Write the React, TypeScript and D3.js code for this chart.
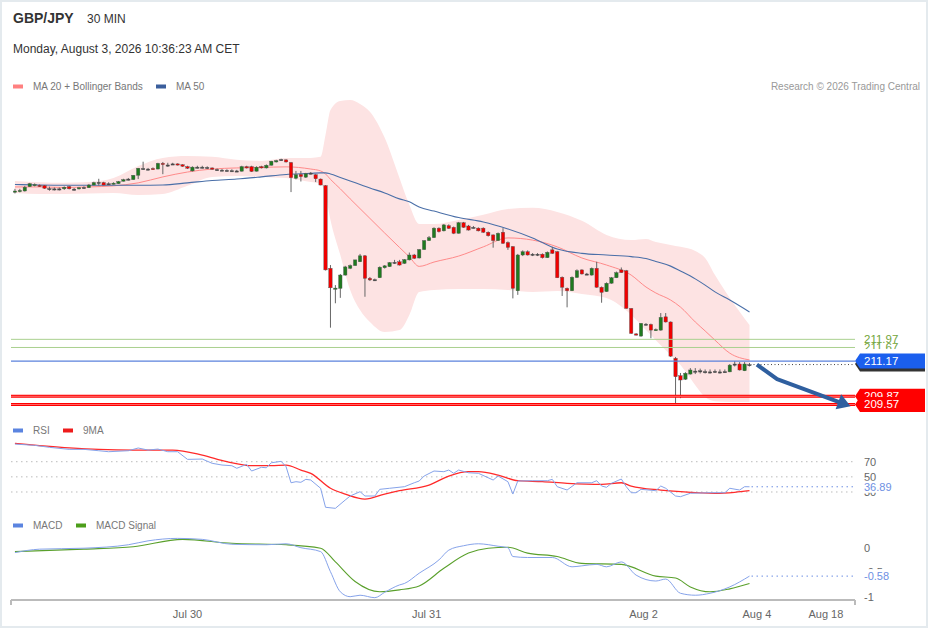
import React, { useEffect, useRef } from 'react';
import * as d3 from 'd3';

// 30 min candles, index 0 = first visible candle
const candleOpen = [
  217.42, 217.44, 217.44, 217.6, 217.66, 217.65, 217.64, 217.53, 217.52, 217.52,
  217.52, 217.6, 217.51, 217.52, 217.56, 217.56, 217.66, 217.75, 217.75, 217.7,
  217.71, 217.71, 217.8, 217.87, 217.86, 218.02, 218.27, 218.25, 218.27, 218.25,
  218.46, 218.4, 218.43, 218.44, 218.41, 218.34, 218.18, 218.32, 218.32, 218.31,
  218.29, 218.23, 218.21, 218.2, 218.19, 218.18, 218.17, 218.34, 218.34, 218.17,
  218.34, 218.29, 218.39, 218.51, 218.59, 218.59, 218.49, 217.91, 218.05, 217.95,
  218.09, 218.04, 217.88, 217.64, 214.59, 213.83, 213.85, 214.34, 214.59, 214.69,
  214.83, 215.05, 214.22, 214.16, 214.24, 214.61, 214.65, 214.8, 214.83, 214.77,
  214.9, 215.08, 214.97, 215.28, 215.61, 215.72, 216.07, 215.97, 216.16, 216.1,
  215.88, 216.27, 216.15, 216.1, 216.07, 216.07, 215.92, 215.82, 215.61, 215.92,
  215.54, 215.39, 213.76, 215.08, 215.2, 215.1, 215.11, 215.11, 214.98, 215.27,
  215.2, 214.26, 213.85, 213.76, 214.25, 214.53, 214.38, 214.34, 214.59, 213.89,
  213.73, 214.04, 214.24, 214.53, 214.5, 213.11, 212.17, 212.09, 212.53, 212.52,
  212.31, 212.31, 212.8, 212.61, 211.27, 210.63, 210.5, 210.69, 210.8, 210.81,
  210.77, 210.77, 210.79, 210.77, 210.77, 210.77, 211.06, 211.06, 210.81, 211.03,
];
const candleHigh = [
  217.52, 217.52, 217.63, 217.74, 217.72, 217.68, 217.66, 217.6, 217.57, 217.57,
  217.61, 217.63, 217.55, 217.59, 217.61, 217.7, 217.78, 217.89, 217.78, 217.76,
  217.76, 217.81, 217.89, 217.92, 218.02, 218.29, 218.52, 218.29, 218.31, 218.48,
  218.51, 218.48, 218.48, 218.46, 218.43, 218.37, 218.35, 218.37, 218.37, 218.35,
  218.31, 218.27, 218.25, 218.24, 218.24, 218.22, 218.37, 218.37, 218.37, 218.35,
  218.37, 218.42, 218.55, 218.59, 218.63, 218.6, 218.51, 218.18, 218.18, 218.11,
  218.14, 218.07, 217.9, 217.66, 214.71, 213.97, 214.38, 214.68, 214.73, 214.9,
  215.12, 215.08, 214.27, 214.21, 214.66, 214.71, 214.82, 214.9, 214.9, 214.93,
  215.17, 215.12, 215.3, 215.63, 215.78, 216.1, 216.1, 216.22, 216.21, 216.13,
  216.3, 216.3, 216.19, 216.15, 216.1, 216.1, 215.95, 215.84, 215.91, 216.07,
  215.58, 215.41, 215.12, 215.25, 215.25, 215.15, 215.15, 215.14, 215.21, 215.38,
  215.23, 214.29, 213.88, 214.29, 214.55, 214.55, 214.42, 214.62, 214.83, 213.92,
  214.07, 214.27, 214.47, 214.62, 214.53, 213.12, 212.2, 212.57, 212.57, 212.55,
  212.37, 212.94, 212.94, 212.63, 211.32, 210.73, 210.76, 210.91, 210.91, 210.89,
  210.86, 210.86, 210.86, 210.86, 210.86, 211.06, 211.17, 211.13, 211.13, 211.1,
];
const candleLow = [
  217.35, 217.39, 217.42, 217.59, 217.61, 217.59, 217.52, 217.45, 217.46, 217.46,
  217.48, 217.5, 217.45, 217.5, 217.52, 217.55, 217.65, 217.64, 217.65, 217.66,
  217.68, 217.7, 217.79, 217.83, 217.85, 217.88, 218.22, 218.2, 218.22, 218.24,
  218.06, 218.33, 218.4, 218.38, 218.33, 218.25, 218.16, 218.27, 218.27, 218.25,
  218.22, 218.2, 218.18, 218.16, 218.16, 218.14, 218.16, 218.27, 218.14, 218.16,
  218.27, 218.27, 218.38, 218.49, 218.55, 218.49, 217.4, 217.87, 217.79, 217.92,
  218.05, 217.77, 217.65, 214.51, 212.4, 213.3, 213.5, 214.32, 214.56, 214.68,
  214.82, 213.54, 214.12, 214.12, 214.23, 214.58, 214.64, 214.75, 214.69, 214.75,
  214.88, 214.93, 214.95, 215.27, 215.6, 215.71, 215.91, 215.95, 216.04, 215.85,
  215.87, 216.08, 215.98, 216.06, 215.95, 215.89, 215.76, 215.35, 215.6, 215.49,
  215.27, 213.48, 213.61, 215.04, 215.06, 215.04, 215.04, 214.95, 214.97, 215.12,
  214.23, 213.57, 213.15, 213.75, 214.24, 214.36, 214.34, 214.32, 213.87, 213.32,
  213.72, 214.02, 214.23, 214.42, 213.1, 212.17, 212.11, 212.07, 212.48, 212.01,
  212.28, 212.29, 212.59, 211.32, 209.61, 209.8, 210.47, 210.67, 210.69, 210.71,
  210.71, 210.71, 210.73, 210.71, 210.73, 210.76, 210.97, 210.82, 210.8, 210.97,
];
const candleClose = [
  217.44, 217.46, 217.58, 217.71, 217.68, 217.63, 217.54, 217.53, 217.52, 217.51,
  217.58, 217.52, 217.5, 217.56, 217.57, 217.66, 217.75, 217.76, 217.66, 217.71,
  217.73, 217.79, 217.86, 217.88, 218.02, 218.28, 218.27, 218.24, 218.25, 218.46,
  218.43, 218.4, 218.44, 218.41, 218.35, 218.28, 218.32, 218.32, 218.32, 218.3,
  218.24, 218.23, 218.21, 218.19, 218.19, 218.18, 218.34, 218.29, 218.16, 218.32,
  218.29, 218.39, 218.54, 218.56, 218.6, 218.51, 217.93, 218.04, 217.97, 218.08,
  218.1, 217.89, 217.66, 214.53, 213.87, 213.86, 214.34, 214.64, 214.69, 214.9,
  215.05, 214.22, 214.16, 214.17, 214.63, 214.68, 214.8, 214.81, 214.71, 214.91,
  215.08, 214.96, 215.28, 215.61, 215.72, 216.07, 215.94, 216.19, 216.06, 215.88,
  216.27, 216.1, 216.0, 216.1, 215.97, 215.92, 215.79, 215.61, 215.88, 215.51,
  215.36, 213.85, 215.08, 215.2, 215.08, 215.11, 215.1, 214.98, 215.18, 215.14,
  214.24, 213.89, 213.76, 214.26, 214.5, 214.38, 214.37, 214.59, 213.89, 213.7,
  214.04, 214.24, 214.43, 214.43, 213.11, 212.19, 212.15, 212.56, 212.52, 212.31,
  212.33, 212.78, 212.61, 211.35, 210.59, 210.47, 210.72, 210.84, 210.8, 210.81,
  210.78, 210.77, 210.79, 210.77, 210.78, 211.02, 211.06, 210.84, 211.06, 211.04,
];

// MA 20 + Bollinger bands and MA 50, read at these candle indices
const bandIndex = [
  0, 5, 10, 15, 20, 25, 30, 35, 40, 45, 50, 55, 60, 62, 63, 64, 66, 68, 70, 72, 75,
  78, 80, 82, 85, 90, 95, 100, 105, 110, 115, 120, 125, 128, 130, 133, 135, 138, 140, 142, 145, 149,
];
const bandUpper = [
  217.81, 217.76, 217.74, 217.77, 217.92, 218.36, 218.66, 218.73, 218.7, 218.59, 218.55, 218.66,
  218.66, 218.7, 219.51, 220.43, 220.76, 220.8, 220.65, 220.36, 219.4, 217.92, 216.93, 216.22,
  216.22, 216.37, 216.56, 216.78, 216.82, 216.67, 216.34, 215.82, 215.63, 215.67, 215.56, 215.45,
  215.38, 215.23, 214.97, 214.34, 213.49, 212.5,
];
const bandLower = [
  217.37, 217.33, 217.33, 217.35, 217.37, 217.29, 217.33, 217.63, 217.96, 217.99, 217.96, 217.92,
  217.77, 217.7, 217.29, 216.37, 215.08, 213.79, 213.05, 212.61, 212.24, 212.31, 212.87, 213.72,
  213.79, 213.83, 213.83, 213.79, 213.72, 213.75, 213.64, 213.49, 212.87, 212.31, 211.94, 211.39,
  211.02, 210.28, 209.84, 209.69, 209.66, 209.66,
];
const ma20 = [
  217.59, 217.59, 217.57, 217.59, 217.63, 217.74, 217.96, 218.14, 218.25, 218.29, 218.31, 218.33,
  218.25, 218.18, 218.07, 217.87, 217.52, 217.15, 216.79, 216.43, 215.89, 215.36, 215.01, 214.66,
  214.82, 215.04, 215.38, 215.71, 215.63, 215.38, 214.97, 214.71, 214.34, 213.9, 213.68, 213.42,
  213.16, 212.61, 212.28, 211.94, 211.46, 211.21,
];
const ma50 = [
  217.68, 217.66, 217.65, 217.65, 217.65, 217.65, 217.66, 217.74, 217.83, 217.88, 217.96, 218.05,
  218.09, 218.11, 218.11, 218.07, 217.94, 217.81, 217.68, 217.55, 217.37, 217.15, 217.04, 216.85,
  216.7, 216.46, 216.3, 216.04, 215.71, 215.3, 215.14, 215.08, 215.02, 214.95, 214.84, 214.67,
  214.49, 214.2, 213.97, 213.72, 213.42, 212.98,
];

const rsiIndex = [
  0, 4, 7, 11, 14, 17, 19, 23, 25, 27, 29, 31, 33, 35, 38, 40, 42, 44, 45, 47, 48, 50, 51, 52,
  54, 55, 56, 57, 58, 59, 60, 62, 63, 65, 67, 68, 70, 71, 73, 74, 76, 79, 81, 82, 83, 85, 87, 88,
  89, 90, 92, 94, 97, 98, 100, 101, 102, 105, 108, 109, 110, 112, 114, 117, 118, 119, 120, 121,
  123, 124, 125, 126, 127, 130, 131, 132, 134, 135, 137, 141, 144, 145, 147, 148, 149,
];
const rsiValues = [
  93.3, 91.6, 89.0, 86.3, 86.3, 84.5, 83.2, 84.5, 88.1, 85.4, 86.7, 83.2, 83.2, 73.1, 73.5, 67.9,
  65.6, 64.7, 61.3, 66.5, 57.7, 62.6, 62.0, 68.6, 70.5, 63.4, 42.2, 43.6, 42.8, 46.7, 45.8, 34.9,
  9.8, 8.4, 19.4, 24.7, 30.4, 24.7, 24.7, 33.5, 34.9, 37.0, 42.2, 44.5, 51.1, 57.7, 56.8, 59.0,
  54.7, 59.0, 55.4, 54.7, 45.8, 51.1, 43.6, 27.3, 44.5, 44.9, 44.9, 46.7, 37.0, 32.6, 42.2, 42.2,
  44.9, 37.9, 36.2, 41.5, 47.1, 37.0, 29.0, 29.0, 33.5, 31.7, 37.9, 34.9, 24.7, 23.8, 28.3, 29.0,
  29.0, 34.9, 32.6, 37.0, 36.89,
];
const rsiMaIndex = [
  0, 11, 17, 24, 32, 38, 43, 48, 52, 55, 58, 60, 64, 67, 71, 75, 78, 84, 88, 92, 94, 98, 102,
  107, 112, 119, 123, 125, 131, 135, 142, 146, 149,
];
const rsiMaValues = [
  94.3, 88.4, 86.3, 85.4, 85.4, 78.8, 70.0, 64.7, 64.7, 65.6, 59.0, 54.7, 34.9, 27.3, 20.7, 27.3,
  31.7, 39.2, 51.1, 56.8, 56.8, 52.4, 44.9, 43.6, 41.5, 40.1, 42.2, 37.9, 32.6, 30.4, 28.3, 29.6, 31.7,
];

const macdIndex = [
  0, 5, 14, 23, 27, 33, 38, 44, 51, 55, 58, 62, 64, 66, 68, 70, 73, 75, 78, 79, 82, 86, 88, 91,
  94, 98, 100, 101, 104, 109, 113, 115, 118, 120, 123, 126, 130, 132, 135, 138, 141, 145, 149,
];
const macdValues = [
  -0.1, -0.03, -0.01, 0.06, 0.14, 0.19, 0.17, 0.07, 0.06, 0.08, 0.0, -0.08, -0.49, -0.9, -1.0,
  -0.97, -1.02, -0.91, -0.76, -0.73, -0.52, -0.25, -0.05, 0.04, 0.08, 0.03, 0.0, -0.18, -0.2,
  -0.2, -0.39, -0.37, -0.34, -0.39, -0.29, -0.56, -0.68, -0.64, -0.93, -0.97, -0.93, -0.8, -0.58,
];
const signalIndex = [
  0, 14, 24, 34, 44, 55, 62, 65, 69, 74, 78, 82, 87, 92, 96, 100, 104, 110, 115, 123, 130, 134,
  137, 141, 145, 149,
];
const signalValues = [
  -0.08, -0.03, 0.02, 0.17, 0.09, 0.06, -0.01, -0.29, -0.69, -0.9, -0.86, -0.78, -0.42, -0.11,
  -0.01, 0.01, -0.11, -0.18, -0.32, -0.34, -0.58, -0.62, -0.8, -0.9, -0.84, -0.73,
];

const resistanceLevels = [211.97, 211.67];
const pivotLevel = 211.17;
const supportLevels = [209.87, 209.57];
const forecastIndex = [150.5, 154.6, 167.6];
const forecastPrice = [211.04, 210.5, 209.63];

const xTickLabels = ['Jul 30', 'Jul 31', 'Aug 2', 'Aug 4', 'Aug 18'];
const xTickIndex = [35, 83.5, 127.5, 150.5, 164.5];
const rsiTicks = [70, 50, 30];
const macdTicks = [0, -0.5, -1];

const FONT = '"Liberation Sans", Arial, Helvetica, sans-serif';

const App: React.FC = () => {
  const svgRef = useRef<SVGSVGElement | null>(null);

  useEffect(() => {
    document.body.style.margin = '0';
    if (!svgRef.current) return;
    const W = 929;
    const H = 629;
    const svg = d3.select(svgRef.current);
    svg.selectAll('*').remove();
    svg.attr('width', W).attr('height', H).style('font-family', FONT).style('display', 'block');

    const x = d3.scaleLinear().domain([-0.8, 170.4]).range([11, 855]);
    const y = d3.scaleLinear().domain([209.18, 220.98]).range([415, 95]);
    const yRsi = d3.scaleLinear().domain([0, 100]).range([514.7, 439]);
    const yMacd = d3.scaleLinear().domain([-1, 0]).range([596.7, 547.7]);
    const lastIdx = candleClose.length - 1;
    const xEnd = x.range()[1];

    svg.append('rect').attr('x', 1).attr('y', 1).attr('width', W - 3).attr('height', H - 3)
      .attr('fill', '#fff').attr('stroke', '#e4eaee').attr('stroke-width', 2);

    // header
    svg.append('text').attr('x', 13).attr('y', 23).attr('font-size', 14).attr('font-weight', 'bold')
      .attr('fill', '#333').text('GBP/JPY');
    svg.append('text').attr('x', 87).attr('y', 23).attr('font-size', 12).attr('fill', '#333').text('30 MIN');
    svg.append('text').attr('x', 13).attr('y', 52.5).attr('font-size', 12).attr('fill', '#333')
      .text('Monday, August 3, 2026 10:36:23 AM CET');

    const legend = (items: { label: string; color: string; x: number }[], ly: number) => {
      items.forEach((it) => {
        svg.append('rect').attr('x', it.x).attr('y', ly - 5.5).attr('width', 10).attr('height', 4)
          .attr('fill', it.color);
        svg.append('text').attr('x', it.x + 20).attr('y', ly).attr('font-size', 10).attr('fill', '#777')
          .text(it.label);
      });
    };
    legend([
      { label: 'MA 20 + Bollinger Bands', color: '#ff8080', x: 13 },
      { label: 'MA 50', color: '#3a5e9c', x: 156 },
    ], 90);
    svg.append('text').attr('x', 920).attr('y', 90).attr('font-size', 10).attr('fill', '#999')
      .attr('text-anchor', 'end').text('Research \u00a9 2026 Trading Central');

    // bollinger band
    const band = d3.area<number>()
      .x((i) => x(bandIndex[i]))
      .y0((i) => y(bandLower[i]))
      .y1((i) => y(bandUpper[i]))
      .curve(d3.curveMonotoneX);
    const idx = d3.range(bandIndex.length);
    svg.append('path').attr('d', band(idx) as string).attr('fill', '#fde3e3');

    const bandLine = (vals: number[]) =>
      d3.line<number>().x((i) => x(bandIndex[i])).y((i) => y(vals[i])).curve(d3.curveMonotoneX)(idx) as string;
    svg.append('path').attr('d', bandLine(ma20)).attr('fill', 'none').attr('stroke', '#ff8a8a').attr('stroke-width', 1);
    svg.append('path').attr('d', bandLine(ma50)).attr('fill', 'none').attr('stroke', '#4a6fa8').attr('stroke-width', 1.1);

    // candles
    const cw = 3.4;
    const candles = svg.append('g');
    const ci = d3.range(candleClose.length);
    candles.selectAll('line').data(ci).join('line')
      .attr('x1', (i) => x(i)).attr('x2', (i) => x(i))
      .attr('y1', (i) => y(candleHigh[i])).attr('y2', (i) => y(candleLow[i]))
      .attr('stroke', '#666').attr('stroke-width', 1);
    candles.selectAll('rect').data(ci).join('rect')
      .attr('x', (i) => x(i) - cw / 2)
      .attr('y', (i) => y(Math.max(candleOpen[i], candleClose[i])))
      .attr('width', cw)
      .attr('height', (i) => Math.max(1.2, Math.abs(y(candleOpen[i]) - y(candleClose[i]))))
      .attr('fill', (i) => {
        const d = candleClose[i] - candleOpen[i];
        if (Math.abs(d) < 0.015) return '#444';
        return d > 0 ? '#1f7a1f' : '#f00000';
      })
      .attr('stroke', '#555').attr('stroke-width', 0.4);

    // levels
    resistanceLevels.forEach((v) => {
      svg.append('line').attr('x1', 11).attr('x2', xEnd).attr('y1', y(v)).attr('y2', y(v))
        .attr('stroke', '#a9d08e').attr('stroke-width', 1);
    });
    svg.append('line').attr('x1', 11).attr('x2', xEnd).attr('y1', y(pivotLevel)).attr('y2', y(pivotLevel))
      .attr('stroke', '#5b82dc').attr('stroke-width', 1.3);
    supportLevels.forEach((v) => {
      svg.append('line').attr('x1', 11).attr('x2', xEnd).attr('y1', y(v)).attr('y2', y(v))
        .attr('stroke', '#ff0000').attr('stroke-width', 3);
      svg.append('line').attr('x1', 11).attr('x2', xEnd).attr('y1', y(v)).attr('y2', y(v))
        .attr('stroke', '#fff').attr('stroke-width', 0.8).attr('opacity', 0.55);
    });
    svg.append('line').attr('x1', x(lastIdx) + 4).attr('x2', xEnd).attr('y1', y(candleClose[lastIdx]))
      .attr('y2', y(candleClose[lastIdx])).attr('stroke', '#444').attr('stroke-dasharray', '1,2.5');

    // forecast arrow
    const fPts = forecastIndex.map((v, i) => [x(v), y(forecastPrice[i])] as [number, number]);
    svg.append('path').attr('d', d3.line()(fPts) as string).attr('fill', 'none')
      .attr('stroke', '#2f5f9f').attr('stroke-width', 4).attr('stroke-linejoin', 'round');
    const [ax, ay] = fPts[fPts.length - 1];
    const [bx, by] = fPts[fPts.length - 2];
    const ang = Math.atan2(ay - by, ax - bx);
    const tip: [number, number] = [ax + 10 * Math.cos(ang), ay + 10 * Math.sin(ang)];
    const side = (s: number): [number, number] => [
      ax - 3 * Math.cos(ang) + s * 8 * Math.cos(ang + Math.PI / 2),
      ay - 3 * Math.sin(ang) + s * 8 * Math.sin(ang + Math.PI / 2),
    ];
    svg.append('path').attr('d', `M${tip}L${side(1)}L${side(-1)}Z`).attr('fill', '#2f5f9f');

    // price labels
    const pointer = (py: number) => `M855,${py}L860,${py - 7.5}L925,${py - 7.5}L925,${py + 7.5}L860,${py + 7.5}Z`;
    resistanceLevels.forEach((v) => {
      svg.append('text').attr('x', 864).attr('y', y(v) + 4).attr('font-size', 11.5).attr('fill', '#72a43a')
        .text(v.toFixed(2));
    });
    const py = y(pivotLevel);
    svg.append('rect').attr('x', 858).attr('y', py - 12).attr('width', 68).attr('height', 14).attr('fill', '#fff');
    svg.append('path').attr('d', pointer(py + 3)).attr('fill', '#333');
    svg.append('path').attr('d', pointer(py)).attr('fill', '#1b5fee');
    svg.append('text').attr('x', 864).attr('y', py + 4).attr('font-size', 11.5).attr('fill', '#fff')
      .text(pivotLevel.toFixed(2));
    supportLevels.forEach((v) => {
      svg.append('path').attr('d', pointer(y(v))).attr('fill', '#ff0000');
      svg.append('text').attr('x', 864).attr('y', y(v) + 4).attr('font-size', 11.5).attr('fill', '#fff')
        .text(v.toFixed(2));
    });

    // RSI panel
    legend([
      { label: 'RSI', color: '#5b84e0', x: 13 },
      { label: '9MA', color: '#ee1c1c', x: 63 },
    ], 434);
    rsiTicks.forEach((t) => {
      svg.append('line').attr('x1', 11).attr('x2', xEnd).attr('y1', yRsi(t)).attr('y2', yRsi(t))
        .attr('stroke', '#bbb').attr('stroke-dasharray', '1.5,3.5');
      svg.append('text').attr('x', 864).attr('y', yRsi(t) + 4).attr('font-size', 11).attr('fill', '#666').text(t);
    });
    svg.append('path')
      .attr('d', d3.line<number>().x((i) => x(rsiMaIndex[i])).y((i) => yRsi(rsiMaValues[i]))
        .curve(d3.curveMonotoneX)(d3.range(rsiMaIndex.length)) as string)
      .attr('fill', 'none').attr('stroke', '#ff2a2a').attr('stroke-width', 1.3);
    svg.append('path')
      .attr('d', d3.line<number>().x((i) => x(rsiIndex[i])).y((i) => yRsi(rsiValues[i]))(d3.range(rsiIndex.length)) as string)
      .attr('fill', 'none').attr('stroke', '#86a3ea').attr('stroke-width', 1);
    const rsiLast = rsiValues[rsiValues.length - 1];
    svg.append('line').attr('x1', x(lastIdx) + 2).attr('x2', xEnd).attr('y1', yRsi(rsiLast)).attr('y2', yRsi(rsiLast))
      .attr('stroke', '#6d8fe3').attr('stroke-dasharray', '1.5,3.5');
    svg.append('rect').attr('x', 862).attr('y', yRsi(rsiLast) - 6).attr('width', 34).attr('height', 12).attr('fill', '#fff');
    svg.append('text').attr('x', 864).attr('y', yRsi(rsiLast) + 4).attr('font-size', 11).attr('fill', '#6d8fe3')
      .text(rsiLast.toFixed(2));

    // MACD panel
    legend([
      { label: 'MACD', color: '#5b84e0', x: 13 },
      { label: 'MACD Signal', color: '#4c9e1a', x: 76 },
    ], 529);
    macdTicks.forEach((t) => {
      svg.append('text').attr('x', 864).attr('y', yMacd(t) + 4).attr('font-size', 11).attr('fill', '#666').text(t);
    });
    svg.append('path')
      .attr('d', d3.line<number>().x((i) => x(signalIndex[i])).y((i) => yMacd(signalValues[i]))
        .curve(d3.curveMonotoneX)(d3.range(signalIndex.length)) as string)
      .attr('fill', 'none').attr('stroke', '#5aa02c').attr('stroke-width', 1.1);
    svg.append('path')
      .attr('d', d3.line<number>().x((i) => x(macdIndex[i])).y((i) => yMacd(macdValues[i]))
        .curve(d3.curveMonotoneX)(d3.range(macdIndex.length)) as string)
      .attr('fill', 'none').attr('stroke', '#86a3ea').attr('stroke-width', 1);
    const macdLast = macdValues[macdValues.length - 1];
    svg.append('line').attr('x1', x(lastIdx) + 2).attr('x2', xEnd).attr('y1', yMacd(macdLast)).attr('y2', yMacd(macdLast))
      .attr('stroke', '#6d8fe3').attr('stroke-dasharray', '1.5,3.5');
    svg.append('rect').attr('x', 862).attr('y', yMacd(macdLast) - 7).attr('width', 34).attr('height', 14).attr('fill', '#fff');
    svg.append('text').attr('x', 864).attr('y', yMacd(macdLast) + 4).attr('font-size', 11).attr('fill', '#6d8fe3')
      .text(macdLast.toFixed(2));

    // x axis
    const axisY = 600;
    svg.append('line').attr('x1', 11).attr('x2', xEnd).attr('y1', axisY).attr('y2', axisY)
      .attr('stroke', '#bbb').attr('stroke-width', 2);
    [11, xEnd].forEach((tx) => {
      svg.append('line').attr('x1', tx).attr('x2', tx).attr('y1', axisY).attr('y2', axisY + 5)
        .attr('stroke', '#bbb').attr('stroke-width', 2);
    });
    xTickLabels.forEach((label, i) => {
      svg.append('text').attr('x', x(xTickIndex[i])).attr('y', 618).attr('font-size', 11)
        .attr('text-anchor', 'middle').attr('fill', '#666').text(label);
    });
  }, []);

  return (
    <div>
      <svg ref={svgRef}></svg>
    </div>
  );
};

export default App;
